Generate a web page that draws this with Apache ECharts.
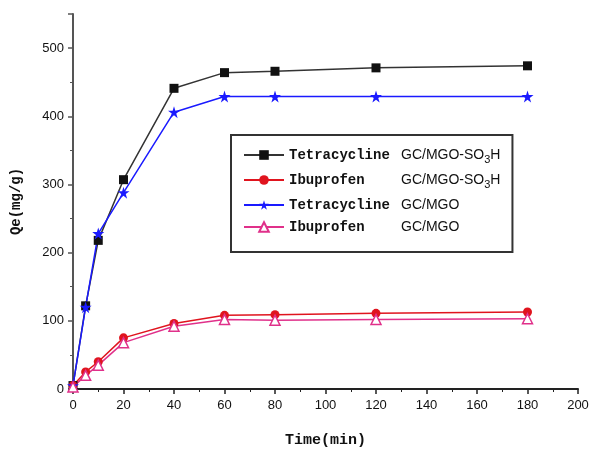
<!DOCTYPE html>
<html><head><meta charset="utf-8">
<script src="https://cdn.jsdelivr.net/npm/echarts@6/dist/echarts.min.js"></script>
<style>html,body{margin:0;padding:0;background:#fff}#c{width:589px;height:451px}</style>
</head><body><div id="c"></div>
<script>
const times = [0, 5, 10, 20, 40, 60, 80, 120, 180];
const tetraSO3H = [5, 122, 218, 307, 441, 464, 466, 471, 474];
const ibuSO3H = [5, 25, 40, 75, 96, 108, 109, 111, 113];
const tetraMGO = [5, 120, 228, 288, 406, 429, 429, 429, 429];
const ibuMGO = [3, 20, 35, 68, 92, 102, 101, 102, 103];
const seriesNames = ['Tetracycline|GC/MGO-SO3H', 'Ibuprofen|GC/MGO-SO3H', 'Tetracycline|GC/MGO', 'Ibuprofen|GC/MGO'];

const pair = (ys) => times.map((t, i) => [t, ys[i]]);
const chart = echarts.init(document.getElementById('c'));
const mk = (name, ys, color, symbol, size, extra) => Object.assign({
  name, type: 'line', data: pair(ys), symbol, symbolSize: size,
  lineStyle: {color, width: 1.5}, itemStyle: {color}, z: 3
}, extra || {});
chart.setOption({
  animation: false,
  backgroundColor: '#fff',
  grid: {left: 73, right: 11, top: 14, bottom: 62, containLabel: false, outerBoundsMode: 'none'},
  xAxis: {
    type: 'value', min: 0, max: 200, interval: 20,
    name: 'Time(min)', nameLocation: 'middle', nameGap: 44,
    nameTextStyle: {fontFamily: 'Liberation Mono', fontSize: 15, fontWeight: 'bold', color: '#111'},
    axisLine: {lineStyle: {color: '#222', width: 2}},
    axisTick: {show: true, length: 5, lineStyle: {color: '#222', width: 1.5}},
    minorTick: {show: true, splitNumber: 2, length: 3, lineStyle: {color: '#222'}},
    axisLabel: {fontFamily: 'Liberation Sans', fontSize: 13, color: '#111', margin: 10},
    splitLine: {show: false}
  },
  yAxis: {
    type: 'value', min: 0, max: 550, interval: 100,
    name: 'Qe(mg/g)', nameLocation: 'middle', nameGap: 50, nameRotate: 90,
    nameTextStyle: {fontFamily: 'Liberation Mono', fontSize: 14, fontWeight: 'bold', color: '#111'},
    axisLine: {show: true, lineStyle: {color: '#555', width: 2}},
    axisTick: {show: true, length: 5, lineStyle: {color: '#555', width: 1.5}},
    minorTick: {show: true, splitNumber: 2, length: 3, lineStyle: {color: '#555'}},
    axisLabel: {fontFamily: 'Liberation Sans', fontSize: 13, color: '#111', margin: 9,
      formatter: v => (v % 100 === 0 ? String(v) : '')},
    splitLine: {show: false}
  },
  legend: {
    orient: 'vertical', left: 231, top: 135,
    width: 282, padding: [13, 12, 18, 12], itemGap: 8,
    itemWidth: 40, itemHeight: 12,
    borderColor: '#333', borderWidth: 2, backgroundColor: '#fff',
    data: seriesNames,
    formatter: n => {
      const [a, b] = n.split('|');
      if (b.endsWith('SO3H')) return '{a|' + a + '}{b|GC/MGO-SO}{s|3}{b|H}';
      return '{a|' + a + '}{b|' + b + '}';
    },
    textStyle: {
      rich: {
        a: {fontFamily: 'Liberation Mono', fontWeight: 'bold', fontSize: 14, color: '#111', width: 112, height: 17},
        b: {fontFamily: 'Liberation Sans', fontSize: 14, color: '#111', height: 17},
        s: {fontFamily: 'Liberation Sans', fontSize: 11, color: '#111', padding: [9, 0, 0, 0], height: 17}
      }
    }
  },
  series: [
    mk(seriesNames[0], tetraSO3H, '#111', 'rect', 9, {lineStyle: {color: '#333', width: 1.5}}),
    mk(seriesNames[1], ibuSO3H, '#e0141e', 'circle', 9),
    mk(seriesNames[2], tetraMGO, '#1a1aff', 'path://M50,0 L61,35 L98,35 L68,57 L79,92 L50,70 L21,92 L32,57 L2,35 L39,35 Z', 12),
    mk(seriesNames[3], ibuMGO, '#e0308a', 'triangle', 10, {itemStyle: {color: '#fff', borderColor: '#e0308a', borderWidth: 1.5}})
  ]
});
</script></body></html>
